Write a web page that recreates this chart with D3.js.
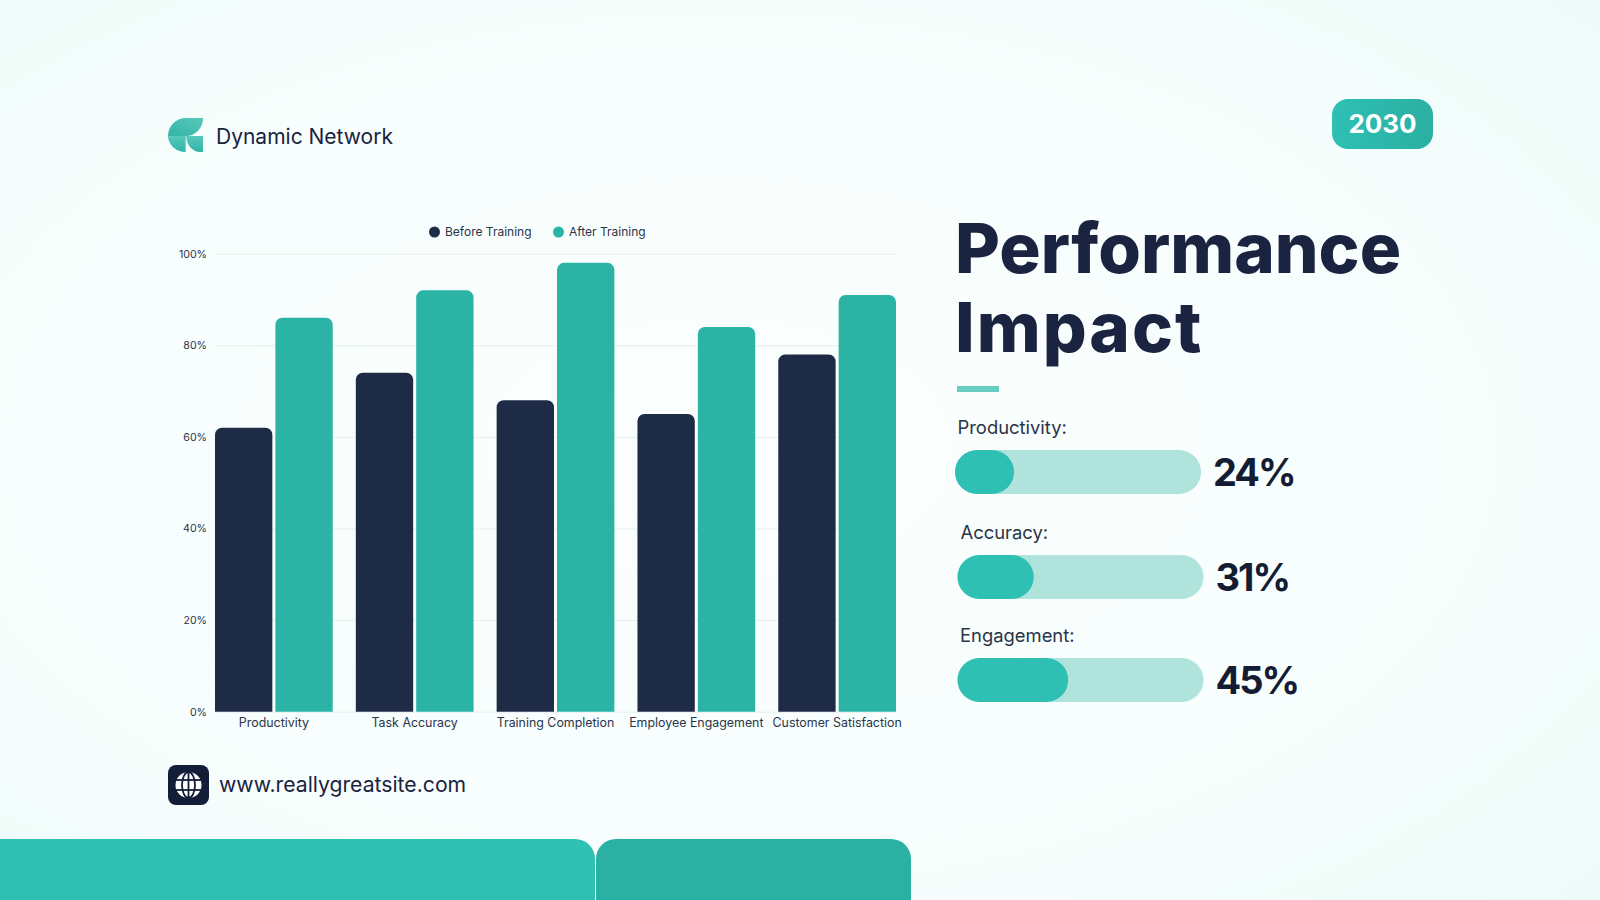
<!DOCTYPE html>
<html>
<head>
<meta charset="utf-8">
<title>Performance Impact</title>
<script src="https://cdn.jsdelivr.net/npm/d3@7"></script>
<style>
  html, body { margin: 0; padding: 0; background: #f8fffe; overflow: hidden; }
  svg { display: block; }
  text { font-family: Inter, "Noto Sans", sans-serif; }
  .axis path { display: none; }
  .axis text { fill: #2a3448; }
</style>
</head>
<body>
<div id="viz"></div>
<script>
// chart values
var categories = ["Productivity", "Task Accuracy", "Training Completion", "Employee Engagement", "Customer Satisfaction"];
var beforeTraining = [62, 74, 68, 65, 78];
var afterTraining = [86, 92, 98, 84, 91];
var yTicks = [0, 20, 40, 60, 80, 100];
var seriesNames = ["Before Training", "After Training"];
var impactLabels = ["Productivity:", "Accuracy:", "Engagement:"];
var impactValues = [24, 31, 45];

// colours
var navy = "#1e2b47";
var teal = "#2bb3a6";
var brightTeal = "#2ec0b3";
var ink = "#1a2340";

var width = 1600, height = 900;
var margin = {top: 253.7, right: 704, bottom: 188.3, left: 215};

var svg = d3.select("#viz").append("svg")
  .attr("width", width)
  .attr("height", height);

var defs = svg.append("defs");

var bg = defs.append("radialGradient").attr("id", "bg")
  .attr("cx", "45%").attr("cy", "50%").attr("r", "75%");
bg.append("stop").attr("offset", "0%").attr("stop-color", "#fbfffe");
bg.append("stop").attr("offset", "60%").attr("stop-color", "#f7fefd");
bg.append("stop").attr("offset", "100%").attr("stop-color", "#edfbf8");

var leafTop = defs.append("linearGradient").attr("id", "leafTop")
  .attr("x1", "0").attr("y1", "1").attr("x2", "1").attr("y2", "0");
leafTop.append("stop").attr("offset", "0%").attr("stop-color", "#33b3a6");
leafTop.append("stop").attr("offset", "100%").attr("stop-color", "#58c8bc");

var leafLow = defs.append("linearGradient").attr("id", "leafLow")
  .attr("x1", "0").attr("y1", "0").attr("x2", "0").attr("y2", "1");
leafLow.append("stop").attr("offset", "0%").attr("stop-color", "#58c8bc");
leafLow.append("stop").attr("offset", "100%").attr("stop-color", "#30b5a8");

var badgeGrad = defs.append("linearGradient").attr("id", "badgeGrad")
  .attr("x1", "0").attr("y1", "0").attr("x2", "1").attr("y2", "0");
badgeGrad.append("stop").attr("offset", "0%").attr("stop-color", "#2ec0b3");
badgeGrad.append("stop").attr("offset", "100%").attr("stop-color", "#2bafa3");

svg.append("rect").attr("width", width).attr("height", height).attr("fill", "url(#bg)");

// scales
var x0 = d3.scaleBand()
  .domain(categories)
  .range([margin.left, width - margin.right])
  .paddingInner(0.164)
  .paddingOuter(0);

var x1 = d3.scaleBand()
  .domain(seriesNames)
  .range([0, x0.bandwidth()])
  .paddingInner(0.05);

var y = d3.scaleLinear()
  .domain([0, 100])
  .range([height - margin.bottom, margin.top]);

// gridlines and y axis
svg.append("g")
  .attr("class", "axis")
  .attr("transform", "translate(" + margin.left + ",0)")
  .call(d3.axisLeft(y).tickValues(yTicks).tickFormat(function(d) { return d + "%"; })
    .tickSize(-(width - margin.left - margin.right)).tickPadding(8))
  .call(function(g) {
    g.selectAll("line").attr("stroke", "#e6eeec");
    g.selectAll("text").attr("font-size", 10.6);
  });

// x axis labels
svg.append("g")
  .attr("class", "axis")
  .attr("transform", "translate(0," + (height - margin.bottom) + ")")
  .call(d3.axisBottom(x0).tickSize(0).tickPadding(7))
  .call(function(g) { g.selectAll("text").attr("font-size", 12.4); });

// bar with rounded top corners
function topRounded(xPos, yPos, w, h, r) {
  var p = d3.path();
  p.moveTo(xPos, yPos + h);
  p.lineTo(xPos, yPos + r);
  p.arcTo(xPos, yPos, xPos + r, yPos, r);
  p.lineTo(xPos + w - r, yPos);
  p.arcTo(xPos + w, yPos, xPos + w, yPos + r, r);
  p.lineTo(xPos + w, yPos + h);
  p.closePath();
  return p.toString();
}

var seriesValues = [beforeTraining, afterTraining];
var seriesColors = [navy, teal];

seriesNames.forEach(function(name, s) {
  svg.append("g").selectAll("path")
    .data(seriesValues[s])
    .enter()
    .append("path")
    .attr("fill", seriesColors[s])
    .attr("d", function(d, i) {
      return topRounded(x0(categories[i]) + x1(name), y(d), x1.bandwidth(), y(0) - y(d), 7);
    });
});

// legend
var legendX = [434.5, 558.5];
seriesNames.forEach(function(name, s) {
  svg.append("circle").attr("cx", legendX[s]).attr("cy", 232).attr("r", 5.5).attr("fill", seriesColors[s]);
  svg.append("text").attr("x", legendX[s] + 10.5).attr("y", 236)
    .attr("font-size", 12).attr("fill", "#2a3448").text(name);
});

// logo
var logo = svg.append("g");
logo.append("path").attr("fill", "url(#leafTop)")
  .attr("d", "M168 136 A18 18 0 0 1 186 118 H203 A17 18 0 0 1 186 136 Z");
logo.append("path").attr("fill", "url(#leafLow)")
  .attr("d", "M168 136 H185.6 V152 A17.6 16 0 0 1 168 136 Z");
logo.append("path").attr("fill", "url(#leafLow)")
  .attr("d", "M186.2 136 H203 V152 H200 A14 16 0 0 1 186.2 136 Z");

svg.append("text").attr("x", 216).attr("y", 144)
  .attr("font-size", 21).attr("fill", ink).text("Dynamic Network");

// year badge
svg.append("rect").attr("x", 1332).attr("y", 99).attr("width", 101).attr("height", 50)
  .attr("rx", 16).attr("fill", "url(#badgeGrad)");
svg.append("text").attr("x", 1382.5).attr("y", 133).attr("text-anchor", "middle")
  .attr("font-size", 26).attr("font-weight", 700).attr("fill", "#fff").text("2030");

// title
svg.append("text").attr("x", 955).attr("y", 273)
  .attr("font-size", 69).attr("font-weight", 800).attr("fill", ink).text("Performance");
svg.append("text").attr("x", 955).attr("y", 352)
  .attr("font-size", 69).attr("font-weight", 800).attr("letter-spacing", 2).attr("fill", ink).text("Impact");
svg.append("rect").attr("x", 957).attr("y", 386).attr("width", 42).attr("height", 6).attr("fill", "#66cdc1");

// progress rows
var rowX = [955, 957.5, 957.5];
var rowY = [450, 555, 658];
var labelX = [957.5, 960.5, 960];
var barLen = d3.scaleLinear().domain([0, 100]).range([0, 246]);

impactValues.forEach(function(v, i) {
  svg.append("text").attr("x", labelX[i]).attr("y", rowY[i] - 16)
    .attr("font-size", 18.4).attr("fill", "#2a3448").text(impactLabels[i]);
  svg.append("rect").attr("x", rowX[i]).attr("y", rowY[i])
    .attr("width", barLen(100)).attr("height", 44).attr("rx", 22).attr("fill", "#b0e3dc");
  svg.append("rect").attr("x", rowX[i]).attr("y", rowY[i])
    .attr("width", barLen(v)).attr("height", 44).attr("rx", 22).attr("fill", brightTeal);
  svg.append("text").attr("x", rowX[i] + barLen(100) + 12).attr("y", rowY[i] + 36)
    .attr("font-size", 38).attr("font-weight", 700).attr("letter-spacing", -2).attr("fill", "#141c33").text(v + "%");
});

// website
svg.append("rect").attr("x", 168).attr("y", 765).attr("width", 41).attr("height", 40)
  .attr("rx", 8).attr("fill", "#141d38");
var globe = svg.append("g").attr("transform", "translate(188.5,785)");
globe.append("circle").attr("r", 13).attr("fill", "#fff");
globe.append("g").attr("fill", "none").attr("stroke", "#141d38").attr("stroke-width", 1.8)
  .call(function(g) {
    g.append("ellipse").attr("rx", 6.5).attr("ry", 13);
    g.append("line").attr("x1", 0).attr("x2", 0).attr("y1", -13).attr("y2", 13);
    g.append("line").attr("x1", -13).attr("x2", 13).attr("y1", -5).attr("y2", -5);
    g.append("line").attr("x1", -13).attr("x2", 13).attr("y1", 5).attr("y2", 5);
  });
svg.append("text").attr("x", 219).attr("y", 792)
  .attr("font-size", 21.2).attr("fill", ink).text("www.reallygreatsite.com");

// bottom panels
svg.append("path").attr("d", topRounded(-30, 839, 625, 61, 20)).attr("fill", brightTeal);
svg.append("path").attr("d", topRounded(596, 839, 315, 61, 20)).attr("fill", "#2bb1a4");
</script>
</body>
</html>
